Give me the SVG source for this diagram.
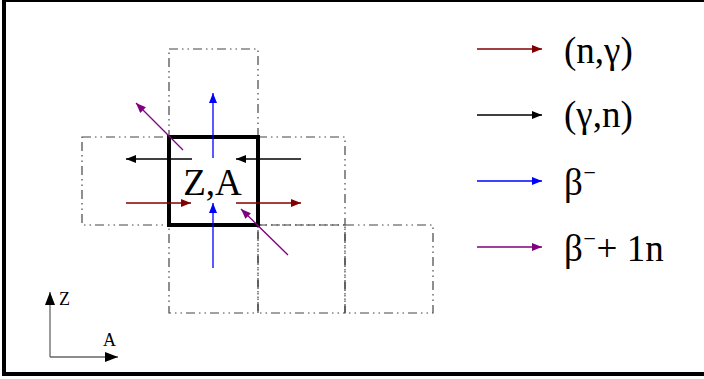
<svg xmlns="http://www.w3.org/2000/svg" width="704" height="379" viewBox="0 0 704 379">
<defs>
<style>
.cell{fill:none;stroke:#444;stroke-width:1.2;stroke-dasharray:9 4 1.5 4 1.5 4}
.t{font-family:"Liberation Serif","Times New Roman","DejaVu Serif",serif;fill:#000}
.sup{font-size:26px}
.ng{stroke:#800000}.gn{stroke:#000}.bm{stroke:#0000ff}.bn{stroke:#800080}
line{stroke-width:1.3}
</style>
<marker id="mr" viewBox="0 0 10 8" refX="10" refY="4" markerWidth="10" markerHeight="8" markerUnits="userSpaceOnUse" orient="auto"><path d="M0,0L10,4L0,8z" fill="#800000"/></marker>
<marker id="mk" viewBox="0 0 10 8" refX="10" refY="4" markerWidth="10" markerHeight="8" markerUnits="userSpaceOnUse" orient="auto"><path d="M0,0L10,4L0,8z" fill="#000"/></marker>
<marker id="mb" viewBox="0 0 10 8" refX="10" refY="4" markerWidth="10" markerHeight="8" markerUnits="userSpaceOnUse" orient="auto"><path d="M0,0L10,4L0,8z" fill="#0000ff"/></marker>
<marker id="mp" viewBox="0 0 10 8" refX="10" refY="4" markerWidth="10" markerHeight="8" markerUnits="userSpaceOnUse" orient="auto"><path d="M0,0L10,4L0,8z" fill="#800080"/></marker>
<marker id="ma" viewBox="0 0 13 10" refX="13" refY="5" markerWidth="13" markerHeight="10" markerUnits="userSpaceOnUse" orient="auto"><path d="M0,0L13,5L0,10z" fill="#000"/></marker>
</defs>
<rect x="0" y="0" width="704" height="379" fill="#fff"/>
<rect x="4" y="0" width="740" height="374" fill="none" stroke="#000" stroke-width="4"/>
<g id="cells">
<rect id="cell-top" class="cell" x="169" y="49" width="89" height="88"/>
<rect id="cell-left" class="cell" x="82" y="137" width="87" height="88"/>
<rect id="cell-right" class="cell" x="258" y="137" width="87" height="88"/>
<rect id="cell-b1" class="cell" x="169" y="225" width="89" height="88"/>
<rect id="cell-b2" class="cell" x="258" y="225" width="87" height="88"/>
<rect id="cell-b3" class="cell" x="345" y="225" width="88" height="88"/>
</g>
<g id="center-node">
<rect x="169" y="137" width="89" height="88" fill="none" stroke="#000" stroke-width="4"/>
<text class="t" x="212.5" y="195" font-size="37" text-anchor="middle">Z,A</text>
</g>
<g id="connectors">
<line class="bm" x1="213" y1="158" x2="213" y2="93" marker-end="url(#mb)"/>
<line class="bm" x1="213" y1="268" x2="213" y2="203" marker-end="url(#mb)"/>
<line class="gn" x1="192" y1="159" x2="126" y2="159" marker-end="url(#mk)"/>
<line class="gn" x1="301" y1="159" x2="236" y2="159" marker-end="url(#mk)"/>
<line class="ng" x1="126" y1="203" x2="191" y2="203" marker-end="url(#mr)"/>
<line class="ng" x1="236" y1="203" x2="301" y2="203" marker-end="url(#mr)"/>
<line class="bn" x1="183" y1="150" x2="136" y2="103" marker-end="url(#mp)"/>
<line class="bn" x1="288" y1="255" x2="241" y2="209" marker-end="url(#mp)"/>
</g>
<g id="legend">
<g id="leg-ng"><line class="ng" x1="477" y1="49" x2="542" y2="49" marker-end="url(#mr)"/><text class="t" x="564" y="63" font-size="37">(n,γ)</text></g>
<g id="leg-gn"><line class="gn" x1="477" y1="115" x2="542" y2="115" marker-end="url(#mk)"/><text class="t" x="564" y="127" font-size="37">(γ,n)</text></g>
<g id="leg-b"><line class="bm" x1="477" y1="181" x2="542" y2="181" marker-end="url(#mb)"/><text class="t" x="564" y="195" font-size="37">β<tspan class="sup" dy="-10">⁻</tspan></text></g>
<g id="leg-bn"><line class="bn" x1="477" y1="247" x2="542" y2="247" marker-end="url(#mp)"/><text class="t" x="564" y="261" font-size="37">β<tspan class="sup" dy="-10">⁻</tspan><tspan dy="10">+ 1n</tspan></text></g>
</g>
<g id="axes">
<line x1="50" y1="357" x2="50" y2="292" stroke="#666" stroke-width="1.2" marker-end="url(#ma)"/>
<line x1="50" y1="357" x2="118" y2="357" stroke="#666" stroke-width="1.2" marker-end="url(#ma)"/>
<text class="t" x="59" y="305" font-size="18">Z</text>
<text class="t" x="103" y="346" font-size="18">A</text>
</g>
</svg>
